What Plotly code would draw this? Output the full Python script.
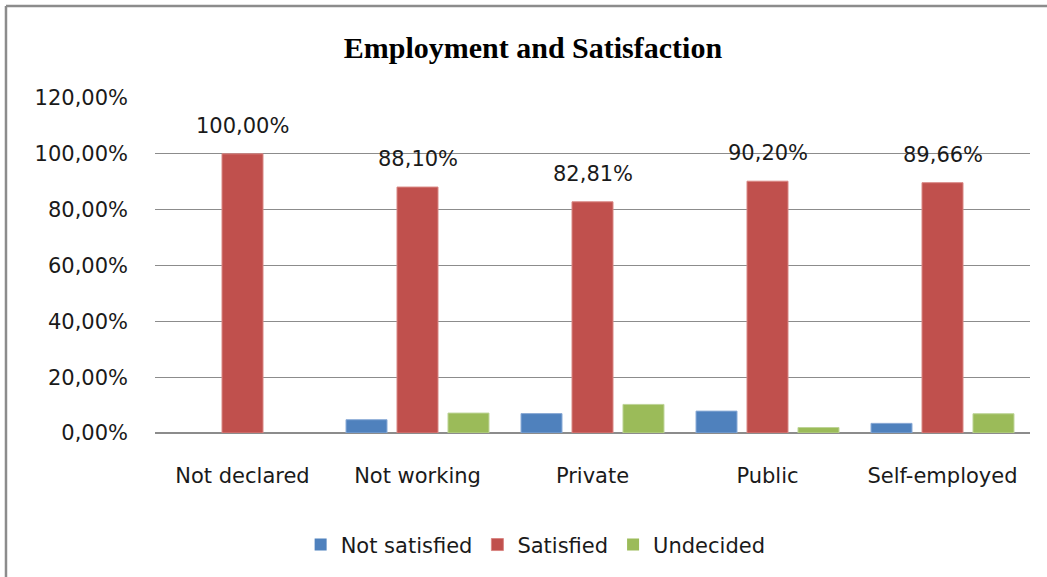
import plotly.graph_objects as go

# Survey results: satisfaction share by employment status
categories = ["Not declared", "Not working", "Private", "Public", "Self-employed"]
not_satisfied = [0.0, 4.76, 6.95, 7.84, 3.45]
satisfied = [100.00, 88.10, 82.81, 90.20, 89.66]
undecided = [0.0, 7.14, 10.24, 1.96, 6.90]
y_ticks = [0, 20, 40, 60, 80, 100, 120]

BLUE = "#4F81BD"
RED = "#C0504D"
GREEN = "#9BBB59"
FONT = "DejaVu Sans"
TEXT = "#1a1a1a"


def pct(v):
    return f"{v:.2f}".replace(".", ",") + "%"


fig = go.Figure()
for name, vals, color, edge in [
    ("Not satisfied", not_satisfied, BLUE, "#8AAAD6"),
    ("Satisfied", satisfied, RED, "#D98784"),
    ("Undecided", undecided, GREEN, "#BDD497"),
]:
    fig.add_trace(go.Bar(
        x=categories, y=vals, name=name,
        marker=dict(color=color,
                    line=dict(color=edge, width=[1 if v > 0 else 0 for v in vals])),
        hoverinfo="skip",
    ))

# Value labels above the "Satisfied" bars (centre bar of each group)
for cat, v in zip(categories, satisfied):
    fig.add_annotation(
        x=cat, y=v, text=pct(v), showarrow=False,
        yanchor="bottom", yshift=14,
        font=dict(family=FONT, size=21, color=TEXT),
    )

# Outer chart frame (runs off the right and bottom edges)
frame = dict(type="line", xref="paper", yref="paper",
             line=dict(color="#8c8c8c", width=2.5))
fig.add_shape(**frame, x0=-0.1703, x1=-0.1703, y0=1.2746, y1=-0.45)
fig.add_shape(**frame, x0=-0.1703, x1=1.05, y0=1.2746, y1=1.2746)

fig.update_layout(
    width=1047, height=577,
    margin=dict(l=155, r=17, t=98, b=144),
    paper_bgcolor="white", plot_bgcolor="white",
    barmode="group", bargap=0.126, bargroupgap=0.196,
    title=dict(
        text="<b>Employment and Satisfaction</b>",
        font=dict(family="Liberation Serif", size=30, color="black"),
        x=0.509, xref="container", xanchor="center",
        y=1 - 47 / 577, yref="container", yanchor="middle",
    ),
    legend=dict(
        orientation="h", x=0.435, xanchor="center", y=-0.334, yanchor="middle",
        font=dict(family=FONT, size=21, color=TEXT),
    ),
    showlegend=True,
)

fig.update_yaxes(
    range=[0, 120], tickvals=y_ticks, ticktext=[pct(v) for v in y_ticks],
    showgrid=True, gridcolor="#8c8c8c", gridwidth=1,
    zeroline=True, zerolinecolor="#8c8c8c", zerolinewidth=2,
    showline=False, ticks="", ticklabelstandoff=26,
    tickfont=dict(family=FONT, size=21, color=TEXT),
)
fig.update_xaxes(
    showline=False, ticks="", ticklabelstandoff=28,
    tickfont=dict(family=FONT, size=21, color=TEXT),
)

fig.write_html("out.html")
